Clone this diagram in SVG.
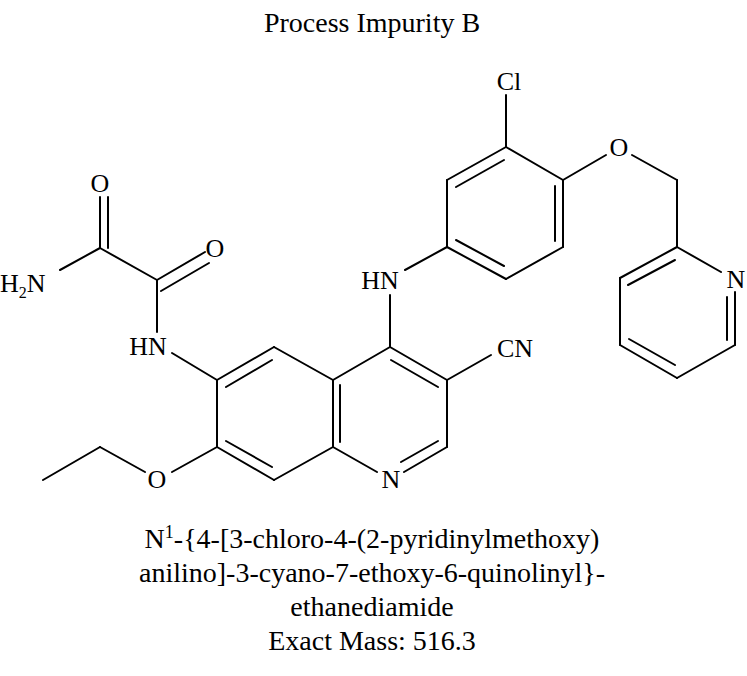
<svg xmlns="http://www.w3.org/2000/svg" width="747" height="676" viewBox="0 0 747 676">
<style>
text{font-family:"Liberation Serif",serif;font-size:28px;fill:#000;text-anchor:middle}
line{stroke:#000;stroke-width:2;stroke-linecap:round}
.a{font-size:26px}
</style>
<rect width="747" height="676" fill="#fff"/>
<text x="372" y="32">Process Impurity B</text>
<g id="connectors">
<line x1="390" y1="347" x2="333" y2="380"/><line x1="390" y1="347" x2="447" y2="380"/><line x1="391" y1="360" x2="438" y2="387"/>
<line x1="447" y1="380" x2="447" y2="447"/>
<line x1="447" y1="447" x2="404" y2="472"/><line x1="438" y1="441" x2="401" y2="462"/>
<line x1="377" y1="472" x2="333" y2="447"/>
<line x1="333" y1="380" x2="333" y2="447"/><line x1="340" y1="385" x2="340" y2="442"/>
<line x1="333" y1="380" x2="274" y2="347"/><line x1="274" y1="347" x2="217" y2="380"/><line x1="272" y1="360" x2="226" y2="387"/>
<line x1="217" y1="380" x2="217" y2="447"/>
<line x1="217" y1="447" x2="274" y2="480"/><line x1="226" y1="441" x2="272" y2="467"/>
<line x1="274" y1="480" x2="333" y2="447"/>
<line x1="447" y1="380" x2="491" y2="355"/>
<line x1="390" y1="347" x2="390" y2="295"/>
<line x1="405" y1="270" x2="447" y2="247"/>
<line x1="447" y1="247" x2="447" y2="180"/>
<line x1="447" y1="180" x2="506" y2="147"/><line x1="456" y1="187" x2="504" y2="160"/>
<line x1="506" y1="147" x2="563" y2="180"/>
<line x1="563" y1="180" x2="563" y2="247"/><line x1="555" y1="186" x2="555" y2="241"/>
<line x1="563" y1="247" x2="506" y2="279"/>
<line x1="506" y1="279" x2="447" y2="247"/><line x1="504" y1="266" x2="456" y2="240"/>
<line x1="506" y1="147" x2="506" y2="95"/>
<line x1="563" y1="180" x2="606" y2="155"/>
<line x1="632" y1="155" x2="677" y2="180"/>
<line x1="677" y1="180" x2="677" y2="247"/>
<line x1="677" y1="247" x2="620" y2="278"/><line x1="675" y1="260" x2="628" y2="285"/>
<line x1="677" y1="247" x2="721" y2="272"/>
<line x1="735" y1="292" x2="735" y2="345"/><line x1="727" y1="297" x2="727" y2="340"/>
<line x1="735" y1="345" x2="677" y2="378"/>
<line x1="677" y1="378" x2="620" y2="345"/><line x1="675" y1="365" x2="629" y2="339"/>
<line x1="620" y1="345" x2="620" y2="278"/>
<line x1="172" y1="353" x2="217" y2="380"/>
<line x1="157" y1="332" x2="157" y2="280"/>
<line x1="157" y1="280" x2="205" y2="252"/><line x1="161" y1="291" x2="209" y2="263"/>
<line x1="157" y1="280" x2="100" y2="248"/>
<line x1="100" y1="248" x2="100" y2="197"/><line x1="108" y1="248" x2="108" y2="197"/>
<line x1="100" y1="248" x2="60" y2="270"/>
<line x1="217" y1="447" x2="172" y2="472"/>
<line x1="145" y1="472" x2="100" y2="447"/>
<line x1="100" y1="447" x2="43" y2="480"/>
</g>
<g id="atoms">
<text class="a" x="391" y="488">N</text>
<text class="a" x="515" y="357">CN</text>
<text class="a" x="380" y="289">HN</text>
<text class="a" x="509" y="90">Cl</text>
<text class="a" x="619" y="156">O</text>
<text class="a" x="736" y="288">N</text>
<text class="a" x="148" y="355">HN</text>
<text class="a" x="215" y="257">O</text>
<text class="a" x="100" y="192">O</text>
<text class="a" x="0" y="292" style="text-anchor:start">H<tspan font-size="16" dy="6">2</tspan><tspan dy="-6">N</tspan></text>
<text class="a" x="157" y="488">O</text>
</g>
<g id="caption">
<text x="372" y="548">N<tspan font-size="18" dy="-10">1</tspan><tspan dy="10">-{4-[3-chloro-4-(2-pyridinylmethoxy)</tspan></text>
<text x="372" y="582">anilino]-3-cyano-7-ethoxy-6-quinolinyl}-</text>
<text x="372" y="616">ethanediamide</text>
<text x="372" y="650">Exact Mass: 516.3</text>
</g>
</svg>
